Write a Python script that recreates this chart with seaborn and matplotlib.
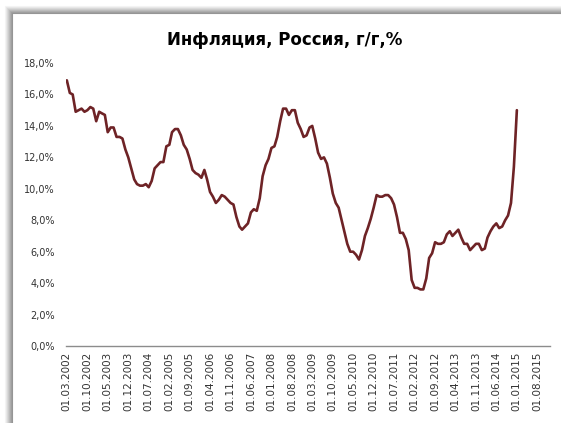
import pandas as pd
import matplotlib.pyplot as plt
import matplotlib.ticker as mticker
from matplotlib.lines import Line2D
import seaborn as sns

# monthly y/y inflation, %, from 01.03.2002 to 01.01.2015
start_month = "2002-03-01"
infl_2002 = [16.9, 16.1, 16.0, 14.9, 15.0, 15.1, 14.9, 15.0, 15.2, 15.1]
infl_2003 = [14.3, 14.9, 14.8, 14.7, 13.6, 13.9, 13.9, 13.3, 13.3, 13.2, 12.5, 12.0]
infl_2004 = [11.3, 10.6, 10.3, 10.2, 10.2, 10.3, 10.1, 10.5, 11.3, 11.5, 11.7, 11.7]
infl_2005 = [12.7, 12.8, 13.6, 13.8, 13.8, 13.4, 12.8, 12.5, 11.9, 11.2, 11.0, 10.9]
infl_2006 = [10.7, 11.2, 10.6, 9.8, 9.5, 9.1, 9.3, 9.6, 9.5, 9.3, 9.1, 9.0]
infl_2007 = [8.2, 7.6, 7.4, 7.6, 7.8, 8.5, 8.7, 8.6, 9.4, 10.8, 11.5, 11.9]
infl_2008 = [12.6, 12.7, 13.3, 14.3, 15.1, 15.1, 14.7, 15.0, 15.0, 14.2, 13.8, 13.3]
infl_2009 = [13.4, 13.9, 14.0, 13.2, 12.3, 11.9, 12.0, 11.6, 10.7, 9.7, 9.1, 8.8]
infl_2010 = [8.0, 7.2, 6.5, 6.0, 6.0, 5.8, 5.5, 6.1, 7.0, 7.5, 8.1, 8.8]
infl_2011 = [9.6, 9.5, 9.5, 9.6, 9.6, 9.4, 9.0, 8.2, 7.2, 7.2, 6.8, 6.1]
infl_2012 = [4.2, 3.7, 3.7, 3.6, 3.6, 4.3, 5.6, 5.9, 6.6, 6.5, 6.5, 6.6]
infl_2013 = [7.1, 7.3, 7.0, 7.2, 7.4, 6.9, 6.5, 6.5, 6.1, 6.3, 6.5, 6.5]
infl_2014 = [6.1, 6.2, 6.9, 7.3, 7.6, 7.8, 7.5, 7.6, 8.0, 8.3, 9.1, 11.4]
infl_2015 = [15.0]

values = (infl_2002 + infl_2003 + infl_2004 + infl_2005 + infl_2006 + infl_2007
          + infl_2008 + infl_2009 + infl_2010 + infl_2011 + infl_2012 + infl_2013
          + infl_2014 + infl_2015)

df = pd.DataFrame({
    "date": pd.date_range(start_month, periods=len(values), freq="MS"),
    "infl": values,
})

tick_dates = pd.date_range("2002-03-01", "2015-08-01", freq="7MS")
y_ticks = [0, 2, 4, 6, 8, 10, 12, 14, 16, 18]

sns.set_theme(style="white")
plt.rcParams["font.family"] = ["DejaVu Sans"]

W, H = 561, 423
fig = plt.figure(figsize=(W / 100, H / 100), dpi=100)
ax = fig.add_axes([0.1176, 0.182, 0.8624, 0.669])

sns.lineplot(data=df, x="date", y="infl", color="#6e2326", linewidth=1.9, ax=ax)

ax.set_ylim(0, 18)
ax.set_yticks(y_ticks)
ax.yaxis.set_major_formatter(mticker.FuncFormatter(lambda v, p: f"{v:.1f}%".replace(".", ",")))
ax.set_xlim(pd.Timestamp("2002-02-20"), pd.Timestamp("2015-12-10"))
ax.set_xticks(tick_dates)
ax.set_xticklabels([d.strftime("%d.%m.%Y") for d in tick_dates], rotation=90)
ax.tick_params(axis="y", length=0, pad=8, labelsize=7, labelcolor="#333333")
ax.tick_params(axis="x", length=0, pad=4, labelsize=7.5, labelcolor="#333333")
ax.set_xlabel("")
ax.set_ylabel("")
ax.grid(False)
for s in ["left", "top", "right"]:
    ax.spines[s].set_visible(False)
ax.spines["bottom"].set_color("#8c8c8c")
ax.spines["bottom"].set_linewidth(1.0)

fig.text(0.508, 0.905, "Инфляция, Россия, г/г,%", ha="center", va="center",
         fontsize=12, fontweight="bold", color="black")

# chart frame with a soft shadow (gradient from outside to the border)
shades = ["#f4f4f4", "#e8e8e8", "#dadada", "#cccccc", "#bdbdbd", "#aeaeae", "#a0a0a0", "#959595"]
for i, c in enumerate(shades):
    px = 4 + i
    fx = (px + 0.5) / W
    fy = 1 - (px + 2.5) / H
    fig.add_artist(Line2D([fx, fx], [0.0, fy], transform=fig.transFigure, color=c, lw=0.8))
    fig.add_artist(Line2D([fx, 1.0], [fy, fy], transform=fig.transFigure, color=c, lw=0.8))

fig.savefig("out.png", dpi=100)
